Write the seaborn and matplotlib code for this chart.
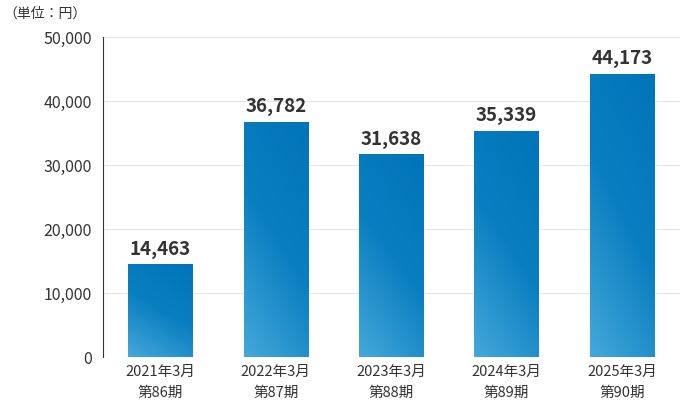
import numpy as np
import matplotlib.pyplot as plt
import seaborn as sns
from matplotlib.colors import LinearSegmentedColormap

periods = ['2021年3月\n第86期', '2022年3月\n第87期', '2023年3月\n第88期', '2024年3月\n第89期', '2025年3月\n第90期']
values = [14463, 36782, 31638, 35339, 44173]

sns.set_style('white')
plt.rcParams['font.family'] = ['Noto Sans CJK JP', 'DejaVu Sans']

fig = plt.figure(figsize=(6.9, 4.2), dpi=100)
ax = fig.add_axes([0.149, 0.15, 0.836, 0.762])

sns.barplot(x=periods, y=values, ax=ax, width=0.56, color='#1a8ac8', saturation=1)

# gradient fill: light at bottom-left, dark at top-right
cmap = LinearSegmentedColormap.from_list('g', ['#45a8da', '#0a7fc0', '#0074b8'])
yy, xx = np.mgrid[0:1:200j, 0:1:200j]
grad = (1 - yy) * 0.7 + xx * 0.3
for p in ax.patches:
    x0, y0 = p.get_x(), p.get_y()
    w, h = p.get_width(), p.get_height()
    im = ax.imshow(grad, cmap=cmap, extent=[x0, x0 + w, y0, y0 + h],
                   aspect='auto', origin='upper', zorder=p.get_zorder() + 0.1)
    im.set_clip_path(p)
    ax.text(x0 + w / 2, y0 + h + 900, f'{int(h):,}', ha='center', va='bottom',
            fontsize=13.5, fontweight='bold', color='#333333')

ax.set_xlim(-0.5, 4.5)
ax.set_ylim(0, 50000)
ax.set_yticks(range(0, 50001, 10000))
ax.set_yticklabels([f'{v:,}' for v in range(0, 50001, 10000)])
ax.yaxis.grid(True, color='#e6e6e6', linewidth=0.8)
ax.set_axisbelow(True)
for s in ['top', 'right', 'bottom']:
    ax.spines[s].set_visible(False)
ax.spines['left'].set_color('#333333')
ax.spines['left'].set_linewidth(0.8)
ax.tick_params(axis='y', length=0, labelsize=11.5, labelcolor='#333333', pad=8)
ax.tick_params(axis='x', length=0, labelsize=10.5, labelcolor='#333333', pad=6)
for t in ax.get_xticklabels():
    t.set_linespacing(1.6)

fig.text(0.005, 0.985, '（単位：円）', ha='left', va='top', fontsize=10, color='#333333')

fig.savefig('out.png', dpi=100)
